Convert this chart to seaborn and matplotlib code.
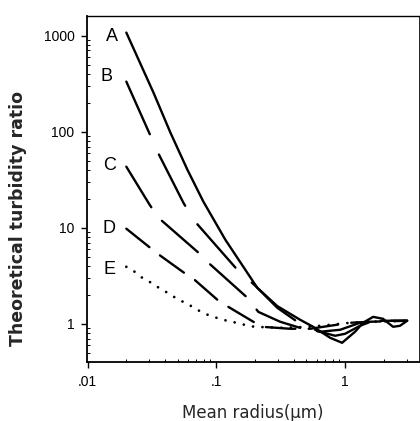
import matplotlib
matplotlib.use("Agg")
import matplotlib.pyplot as plt
import matplotlib.ticker as mticker
import numpy as np
import pandas as pd
import seaborn as sns

# ---- data ----
r_A = [0.02, 0.0325, 0.044, 0.0596, 0.0793, 0.1175, 0.208, 0.297, 0.448, 0.565, 0.765, 0.948, 1.195, 1.38, 1.65, 1.97, 2.36, 2.67, 3.03]
y_A = [1075, 255, 97.7, 40.2, 18.7, 7.5, 2.37, 1.53, 1.10, 0.93, 0.715, 0.634, 0.826, 1.024, 1.18, 1.127, 0.93, 0.953, 1.075]

r_B = [0.02, 0.0303, 0.0349, 0.0555, 0.0664, 0.1456, 0.2006, 0.297, 0.448, 0.64, 0.837, 1.0, 1.307, 1.65, 2.23, 3.03]
y_B = [332, 95.3, 61.9, 18.2, 12.1, 3.65, 2.49, 1.47, 1.0, 0.826, 0.75, 0.787, 0.953, 1.075, 1.075, 1.075]

r_C = [0.02, 0.0303, 0.0355, 0.0713, 0.0867, 0.174, 0.212, 0.313, 0.472, 0.64, 0.915, 1.307, 1.87, 3.03]
y_C = [43.2, 17.4, 12.7, 5.62, 4.32, 1.87, 1.33, 1.05, 0.887, 0.826, 0.866, 1.024, 1.075, 1.075]

r_D = [0.02, 0.0313, 0.0368, 0.0575, 0.0664, 0.1018, 0.124, 0.1936, 0.2274, 0.375, 0.535, 0.765, 1.093, 1.56, 3.03]
y_D = [9.77, 6.04, 5.11, 3.32, 2.94, 1.78, 1.50, 1.05, 0.93, 0.887, 0.887, 0.953, 1.024, 1.05, 1.075]

r_E = [0.02, 0.0227, 0.0272, 0.0313, 0.0368, 0.0432, 0.0507, 0.0596, 0.0688, 0.0793, 0.0931, 0.1093, 0.126, 0.148, 0.174, 0.2006, 0.313, 0.535, 0.765, 1.093, 1.56, 3.03]
y_E = [3.92, 3.56, 2.94, 2.67, 2.31, 2.05, 1.78, 1.62, 1.43, 1.30, 1.18, 1.127, 1.05, 1.024, 0.953, 0.93, 0.908, 0.93, 0.976, 1.024, 1.05, 1.075]

curve_names = ["A", "B", "C", "D", "E"]
label_r = [0.01535, 0.0140, 0.0148, 0.0148, 0.0148]
label_y = [977, 374, 44.2, 9.77, 3.65]

x_ticks = [0.01, 0.1, 1]
x_tick_labels = [".01", ".1", "1"]
y_ticks = [1, 10, 100, 1000]
y_tick_labels = ["1", "10", "100", "1000"]

# ---- build long-form table ----
frames = []
for name, rr, yy in zip(curve_names, [r_A, r_B, r_C, r_D, r_E], [y_A, y_B, y_C, y_D, y_E]):
    frames.append(pd.DataFrame({"radius": rr, "ratio": yy, "curve": name}))
df = pd.concat(frames, ignore_index=True)

sns.set_style("ticks")
plt.rcParams["font.family"] = ["Liberation Sans", "DejaVu Sans"]
plt.rcParams["lines.scale_dashes"] = False
plt.rcParams["lines.dash_capstyle"] = "round"
plt.rcParams["lines.solid_capstyle"] = "round"

fig = plt.figure(figsize=(4.2, 4.21), dpi=100)
ax = fig.add_axes([87 / 420, 1 - 362 / 421, 332 / 420, 346 / 421])

dashes = {
    "A": "",
    "B": (41.5, 16.0),
    "C": (34.3, 12.5),
    "D": (21.3, 9.6),
    "E": (0.01, 6.8),
}
palette = {n: "black" for n in curve_names}

sns.lineplot(data=df[df.curve != "E"], x="radius", y="ratio", hue="curve", style="curve",
             dashes=dashes, palette=palette, estimator=None, sort=True,
             linewidth=1.7, legend=False, ax=ax)
sns.lineplot(data=df[df.curve == "E"], x="radius", y="ratio", hue="curve", style="curve",
             dashes=dashes, palette=palette, estimator=None, sort=True,
             linewidth=2.0, legend=False, ax=ax)

ax.set_xscale("log")
ax.set_yscale("log")
ax.set_xlim(0.0099, 3.75)
ax.set_ylim(0.40, 1600)

ax.xaxis.set_major_locator(mticker.FixedLocator(x_ticks))
ax.xaxis.set_major_formatter(mticker.FixedFormatter(x_tick_labels))
ax.yaxis.set_major_locator(mticker.FixedLocator(y_ticks))
ax.yaxis.set_major_formatter(mticker.FixedFormatter(y_tick_labels))
ax.xaxis.set_minor_locator(mticker.LogLocator(base=10, subs=np.arange(2, 10)))
ax.yaxis.set_minor_locator(mticker.LogLocator(base=10, subs=np.arange(2, 10)))
ax.xaxis.set_minor_formatter(mticker.NullFormatter())
ax.yaxis.set_minor_formatter(mticker.NullFormatter())

ax.tick_params(which="major", direction="out", length=4, width=1.0, labelsize=10, colors="black", pad=5)
ax.tick_params(which="minor", direction="in", length=2.5, width=0.7, colors="black")

for side in ["left", "bottom", "top", "right"]:
    ax.spines[side].set_visible(True)
    ax.spines[side].set_color("black")
ax.spines["left"].set_linewidth(1.3)
ax.spines["bottom"].set_linewidth(1.3)
ax.spines["top"].set_linewidth(1.0)
ax.spines["right"].set_linewidth(0.6)

for name, lx, ly in zip(curve_names, label_r, label_y):
    ax.text(lx, ly, name, fontsize=13, ha="center", va="center", color="black")

ax.set_xlabel("Mean radius(\u00b5m)", fontsize=12, family=["DejaVu Sans"])
ax.set_ylabel("Theoretical turbidity ratio", fontsize=12.5, family=["DejaVu Sans"], fontweight="bold")
ax.xaxis.set_label_coords(0.5, -0.121)
ax.yaxis.set_label_coords(-0.181, 0.416)

fig.savefig("out.png", dpi=100)
